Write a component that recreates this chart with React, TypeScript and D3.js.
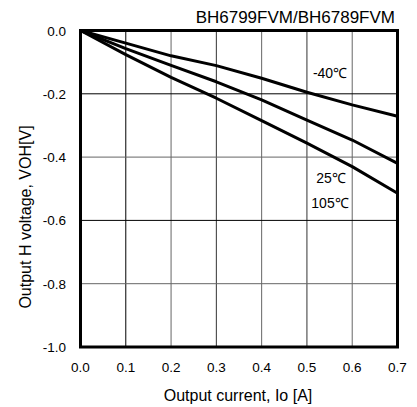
import React from "react";
import * as d3 from "d3";

const xTicks = [0, 0.1, 0.2, 0.3, 0.4, 0.5, 0.6, 0.7];
const yTicks = [0, -0.2, -0.4, -0.6, -0.8, -1.0];
const current = [0, 0.1, 0.2, 0.3, 0.4, 0.5, 0.6, 0.7];
const vohMinus40 = [0, -0.04, -0.08, -0.111, -0.151, -0.195, -0.235, -0.271];
const voh25 = [0, -0.057, -0.11, -0.162, -0.219, -0.283, -0.346, -0.42];
const voh105 = [0, -0.076, -0.148, -0.214, -0.285, -0.356, -0.43, -0.514];
const seriesLabels = ["-40℃", "25℃", "105℃"];
const title = "BH6799FVM/BH6789FVM";

const W = 417, H = 407;
const L = 80.5, R = 397.5, T = 30.5, B = 347;

export default function App() {
  const x = d3.scaleLinear().domain([0, 0.7]).range([L, R]);
  const y = d3.scaleLinear().domain([0, -1]).range([T, B]);
  const line = d3.line<number>().x((_, i) => x(current[i])).y((d) => y(d));
  const series = [vohMinus40, voh25, voh105];
  const font = "Liberation Sans, Arial, sans-serif";
  const gridColors = ["#000", "#000", "#666", "#333", "#666", "#333", "#666", "#000"];
  return (
    <svg width={W} height={H} style={{ position: "absolute", left: 0, top: 0, background: "#fff" }} fontFamily={font}>
      <rect x={0} y={0} width={W} height={H} fill="#fff" />
      {xTicks.slice(1, -1).map((t, i) => (
        <line key={"vx" + t} x1={x(t)} x2={x(t)} y1={T} y2={B} stroke={gridColors[i + 1]} strokeWidth={1} />
      ))}
      {yTicks.slice(1, -1).map((t, i) => (
        <line key={"hy" + t} x1={L} x2={R} y1={y(t)} y2={y(t)} stroke={i % 2 === 0 ? "#000" : "#666"} strokeWidth={1} />
      ))}
      {series.map((s, i) => (
        <path key={i} d={line(s) || ""} fill="none" stroke="#000" strokeWidth={3} strokeLinejoin="round" />
      ))}
      <rect x={L} y={T} width={R - L} height={B - T} fill="none" stroke="#000" strokeWidth={3} />
      {xTicks.map((t) => (
        <text key={"xt" + t} x={x(t)} y={372} textAnchor="middle" fontSize={13.5} fill="#000">
          {t.toFixed(1)}
        </text>
      ))}
      {yTicks.map((t) => (
        <text key={"yt" + t} x={66} y={y(t) + 5} textAnchor="end" fontSize={13.5} fill="#000">
          {t.toFixed(1)}
        </text>
      ))}
      <text x={395} y={23} textAnchor="end" fontSize={17} fill="#000">{title}</text>
      <text x={238} y={401} textAnchor="middle" fontSize={16} fill="#000">Output current, Io [A]</text>
      <text transform={`translate(31,217) rotate(-90)`} textAnchor="middle" fontSize={16} fill="#000">
        Output H voltage, VOH[V]
      </text>
      <text x={330} y={78} textAnchor="middle" fontSize={14} fill="#000">{seriesLabels[0]}</text>
      <text x={331} y={183} textAnchor="middle" fontSize={14} fill="#000">{seriesLabels[1]}</text>
      <text x={330} y={208} textAnchor="middle" fontSize={14} fill="#000">{seriesLabels[2]}</text>
    </svg>
  );
}
